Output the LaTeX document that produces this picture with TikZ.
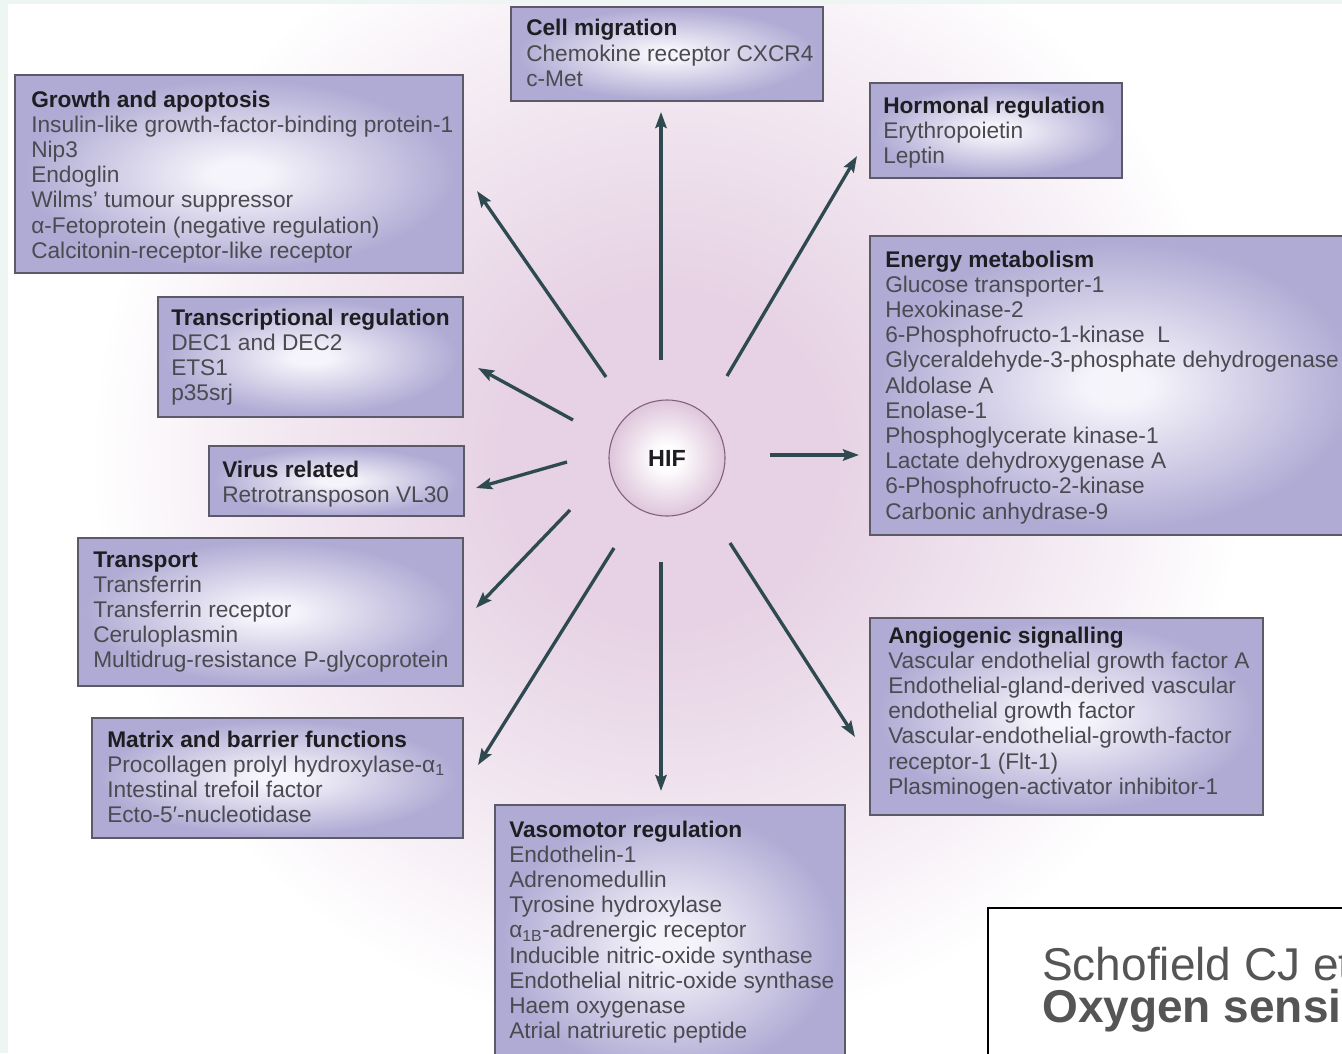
\documentclass[tikz,border=0pt]{standalone}
\usepackage{fontspec}
\setmainfont{Liberation Sans}
\usetikzlibrary{arrows.meta,fit}
\definecolor{boxc}{HTML}{B0ABD4}
\definecolor{boxin}{HTML}{F6F4FB}
\definecolor{bordc}{HTML}{5C5A68}
\definecolor{glowc}{HTML}{E6D2E4}
\definecolor{arrc}{HTML}{2E4A50}
\definecolor{titlec}{HTML}{1E1E22}
\definecolor{itemc}{HTML}{4A4A50}
\definecolor{hifedge}{HTML}{DEC5DB}
\definecolor{hifline}{HTML}{7E6079}
\definecolor{citec}{HTML}{555555}
\definecolor{stripc}{HTML}{EEF6F4}
\pgfdeclareradialshading{boxsh}{\pgfpoint{0bp}{0bp}}{color(0bp)=(boxin); color(3bp)=(boxin); color(24bp)=(boxc); color(50bp)=(boxc)}
\pgfdeclareradialshading{glowsh}{\pgfpoint{0bp}{0bp}}{color(0bp)=(glowc); color(3.5bp)=(glowc); color(8.5bp)=(glowc!45!white); color(12bp)=(white); color(50bp)=(white)}
\pgfdeclareradialshading{hifsh}{\pgfpoint{0bp}{0bp}}{color(0bp)=(white); color(5bp)=(white); color(25bp)=(hifedge); color(50bp)=(hifedge)}
\newcommand{\hiftext}[2]{\parbox[t]{460pt}{\fontsize{17}{18.9}\selectfont\raggedright\leavevmode{\color{titlec}\bfseries #1}\\\color{itemc}#2}}
\tikzset{
  gbox/.style={draw=bordc, line width=1.1pt, shading=boxsh, rectangle, inner sep=0pt},
  lbl/.style={inner sep=0pt, anchor=base west},
  arr/.style={draw=arrc, line width=2.5pt, -{Stealth[length=12pt,width=8.5pt,inset=2pt]}},
}
\begin{document}
\begin{tikzpicture}[x=0.75pt,y=-0.75pt]
\useasboundingbox (0,0) rectangle (1342,1053);
\clip (0,0) rectangle (1342,1053);
\fill[white] (0,0) rectangle (1342,1053);
\fill[shading=glowsh] (667,459) circle (1200);
\fill[stripc] (0,0) rectangle (1342,4);
\fill[stripc] (0,0) rectangle (8,1053);

% arrows
\coordinate (s1) at (661,360);  \coordinate (e1) at (661,112);
\coordinate (s2) at (727,376);  \coordinate (e2) at (857,156);
\coordinate (s3) at (606,377);  \coordinate (e3) at (477,191);
\coordinate (s4) at (573,420);  \coordinate (e4) at (478,368);
\coordinate (s5) at (770,455);  \coordinate (e5) at (859,455);
\coordinate (s6) at (567,462);  \coordinate (e6) at (476,488);
\coordinate (s7) at (570,510);  \coordinate (e7) at (476,608);
\coordinate (s8) at (614,548);  \coordinate (e8) at (478,765);
\coordinate (s9) at (661,562);  \coordinate (e9) at (661,791);
\coordinate (s10) at (730,543); \coordinate (e10) at (855,737);
\foreach \i in {1,...,10} {\draw[arr] (s\i) -- (e\i);}

% boxes
\node[gbox, fit={(511,7) (823,101)}] (bmig) {};
\node[gbox, fit={(15,75) (463,273)}] (bgro) {};
\node[gbox, fit={(870,83) (1122,178)}] (bhor) {};
\node[gbox, fit={(870,236) (1365,535)}] (bene) {};
\node[gbox, fit={(158,297) (463,417)}] (btra) {};
\node[gbox, fit={(209,446) (464,516)}] (bvir) {};
\node[gbox, fit={(78,538) (463,686)}] (bpor) {};
\node[gbox, fit={(92,718) (463,838)}] (bmat) {};
\node[gbox, fit={(495,805) (845,1080)}] (bvas) {};
\node[gbox, fit={(870,618) (1263,815)}] (bang) {};

% texts
\node[lbl] (tmig) at (526,36) {\hiftext{Cell migration}{Chemokine receptor CXCR4\\c-Met}};
\node[lbl] (tgro) at (31,107) {\hiftext{Growth and apoptosis}{Insulin-like growth-factor-binding protein-1\\Nip3\\Endoglin\\Wilms’ tumour suppressor\\α-Fetoprotein (negative regulation)\\Calcitonin-receptor-like receptor}};
\node[lbl] (thor) at (883,113) {\hiftext{Hormonal regulation}{Erythropoietin\\Leptin}};
\node[lbl] (tene) at (885,267) {\hiftext{Energy metabolism}{Glucose transporter-1\\Hexokinase-2\\6-Phosphofructo-1-kinase\ \ L\\Glyceraldehyde-3-phosphate dehydrogenase\\Aldolase A\\Enolase-1\\Phosphoglycerate kinase-1\\Lactate dehydroxygenase A\\6-Phosphofructo-2-kinase\\Carbonic anhydrase-9}};
\node[lbl] (ttra) at (171,325) {\hiftext{Transcriptional regulation}{DEC1 and DEC2\\ETS1\\p35srj}};
\node[lbl] (tvir) at (222,477) {\hiftext{Virus related}{Retrotransposon VL30}};
\node[lbl] (tpor) at (93,567) {\hiftext{Transport}{Transferrin\\Transferrin receptor\\Ceruloplasmin\\Multidrug-resistance P-glycoprotein}};
\node[lbl] (tmat) at (107,747) {\hiftext{Matrix and barrier functions}{Procollagen prolyl hydroxylase-α\textsubscript{1}\\Intestinal trefoil factor\\Ecto-5′-nucleotidase}};
\node[lbl] (tvas) at (509,837) {\hiftext{Vasomotor regulation}{Endothelin-1\\Adrenomedullin\\Tyrosine hydroxylase\\α\textsubscript{1B}-adrenergic receptor\\Inducible nitric-oxide synthase\\Endothelial nitric-oxide synthase\\Haem oxygenase\\Atrial natriuretic peptide}};
\node[lbl] (tang) at (888,643) {\hiftext{Angiogenic signalling}{Vascular endothelial growth factor A\\Endothelial-gland-derived vascular\\endothelial growth factor\\Vascular-endothelial-growth-factor\\receptor-1 (Flt-1)\\Plasminogen-activator inhibitor-1}};

% HIF
\node[circle, minimum size=87pt, inner sep=0pt, draw=hifline, line width=0.8pt, shading=hifsh, text=titlec, font=\fontsize{17.5}{20}\selectfont\bfseries] (hif) at (667,458) {HIF};

% citation
\node[draw=black, line width=2.2pt, fill=white, rectangle, inner sep=0pt, fit={(988,908) (1380,1090)}] (cite) {};
\node[lbl, text=citec, font=\fontsize{34.5}{40}\selectfont] (cite1) at (1042,980) {Schofield CJ et al.};
\node[lbl, text=citec, font=\fontsize{34.5}{40}\selectfont\bfseries] (cite2) at (1042,1022) {Oxygen sensing};
\end{tikzpicture}
\end{document}
